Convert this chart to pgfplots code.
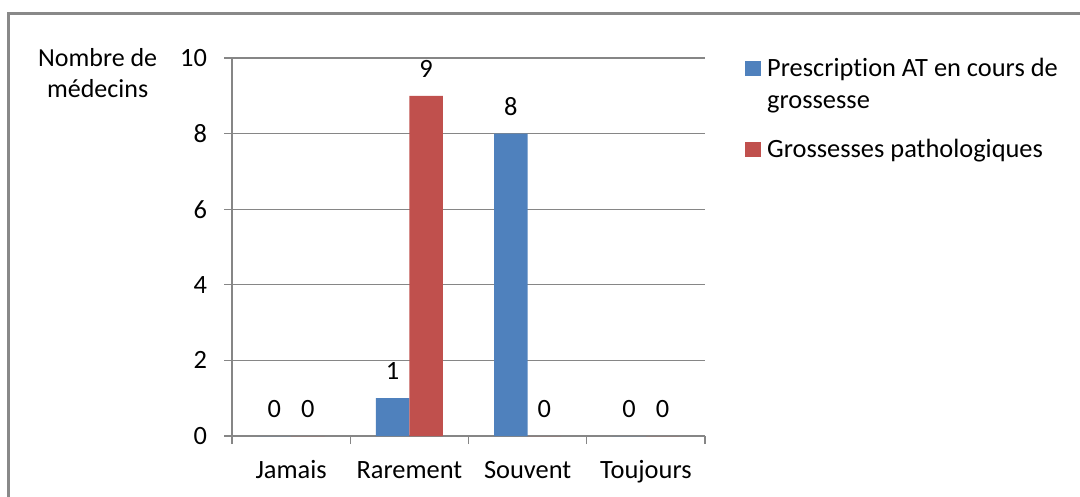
\documentclass[border=0pt]{standalone}
\usepackage{pgfplots}
\pgfplotsset{compat=1.18}
\usepackage{fontspec}
\setmainfont{Carlito}[Ligatures=NoCommon]
\definecolor{cblue}{HTML}{4F81BD}
\definecolor{cred}{HTML}{C0504D}
\definecolor{gline}{HTML}{868686}
\definecolor{frame}{HTML}{898989}
\newcommand{\cf}{\fontsize{19.8}{24}\selectfont}
\begin{document}
\cf
\begin{tikzpicture}[x=0.75pt,y=0.75pt]
\useasboundingbox (0,0) rectangle (1080,496);
\draw[color=frame, line width=1.6pt] (8.5,-10) -- (8.5,482.5) -- (1090,482.5);
\begin{axis}[
  at={(174pt,45pt)}, anchor=south west,
  scale only axis, width=354.75pt, height=283.5pt,
  xmin=-0.5, xmax=3.5, ymin=0, ymax=10,
  ybar, bar width=0.284, 
  ytick={0,2,4,6,8,10},
  xtick={0,1,2,3},
  xticklabels={Jamais,Rarement,Souvent,Toujours},
  x tick style={draw=none},
  extra x ticks={-0.5,0.5,1.5,2.5,3.5},
  extra x tick labels={},
  extra x tick style={x tick style={draw=gline, line width=0.9pt}, major tick length=6pt, grid=none},
  axis x line*=bottom, axis y line*=left,
  axis line style={draw=gline, line width=0.9pt, -},
  tick align=outside,
  major tick length=6pt,
  y tick style={draw=gline, line width=0.9pt},
  ymajorgrids, grid style={draw=gline, line width=0.9pt},
  tick label style={font=\cf},
  /pgf/number format/assume math mode=true,
  xticklabel style={anchor=base, yshift=-26pt},
  yticklabel style={anchor=east, xshift=-6pt},
  ylabel={Nombre de\\médecins},
  ylabel style={rotate=-90, align=center, font=\fontsize{19.5}{23}\selectfont, at={(axis description cs:-0.284,0.960)}, anchor=center},
  nodes near coords,
  nodes near coords style={font=\cf, anchor=south, inner sep=0pt, yshift=13.5pt, text=black},
  every node near coord/.append style={/pgf/number format/assume math mode=true},
  legend style={at={(axis description cs:1.083,1.019)}, anchor=north west, draw=none, fill=none, inner sep=0pt, font=\cf, cells={anchor=base west}, row sep=40pt},
  legend image code/.code={\fill[#1] (0pt,0pt) rectangle (12pt,11.5pt); \path (15pt,0pt);},
  enlargelimits=false, clip=false,
]
\addplot[fill=cblue, draw=none, bar shift=-0.142] coordinates {(0,0) (1,1) (2,8) (3,0)};
\addplot[fill=cred, draw=none, bar shift=0.142] coordinates {(0,0) (1,9) (2,0) (3,0)};
\legend{{\begin{tabular}[t]{@{}l@{}}Prescription AT en cours de\\grossesse\end{tabular}}, Grossesses pathologiques}
\end{axis}
\end{tikzpicture}
\end{document}
